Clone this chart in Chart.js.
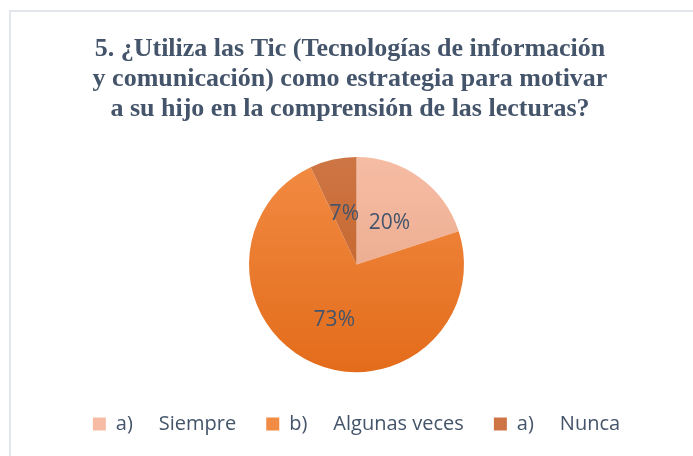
<!DOCTYPE html>
<html><head><meta charset="utf-8">
<script src="https://cdn.jsdelivr.net/npm/chart.js@4"></script>
<style>
html,body{margin:0;padding:0;background:#fff;width:693px;height:456px;overflow:hidden}
#wrap{position:relative;width:693px;height:456px}
#frame{position:absolute;left:9px;top:10px;width:720px;height:480px;border-left:2px solid #E3E6EC;border-top:2px solid #E3E6EC}
canvas{position:absolute;left:0;top:0}
</style></head><body>
<div id="wrap"><div id="frame"></div><canvas id="c" width="693" height="456"></canvas></div>
<script>
const titleLines = [
  "5. ¿Utiliza las Tic (Tecnologías de información",
  "y comunicación) como estrategia para motivar",
  "a su hijo en la comprensión de las lecturas?"
];
const categories = ["a)     Siempre", "b)     Algunas veces", "a)     Nunca"];
const percentages = [20, 73, 7];
const topColors = ["#F6BDA4", "#F28B43", "#CE7545"];
const bottomColors = ["#E4A083", "#E36C1B", "#C05E1E"];

const PIE_R = 107.5;
const TEXT_COLOR = "#44546A";

const titlePlugin = {
  id: 'customTitle',
  afterDraw(chart) {
    const ctx = chart.ctx;
    ctx.save();
    ctx.fillStyle = TEXT_COLOR;
    ctx.font = "bold 26px 'Liberation Serif', 'Times New Roman', serif";
    ctx.textAlign = 'center';
    ctx.textBaseline = 'alphabetic';
    const baselines = [55.7, 86, 115.7];
    titleLines.forEach((t, i) => ctx.fillText(t, 350, baselines[i]));
    ctx.restore();
  }
};

const labelPlugin = {
  id: 'pctLabels',
  afterDatasetsDraw(chart) {
    const ctx = chart.ctx;
    const meta = chart.getDatasetMeta(0);
    ctx.save();
    ctx.fillStyle = TEXT_COLOR;
    ctx.font = "21px 'Open Sans', sans-serif";
    ctx.textAlign = 'center';
    ctx.textBaseline = 'middle';
    meta.data.forEach((arc, i) => {
      const p = arc.getProps(['x', 'y', 'startAngle', 'endAngle', 'outerRadius'], true);
      const mid = (p.startAngle + p.endAngle) / 2;
      const d = p.outerRadius * 0.52;
      ctx.fillText(percentages[i] + '%', p.x + Math.cos(mid) * d, p.y + Math.sin(mid) * d + 4);
    });
    ctx.restore();
  }
};

function sliceFill(context) {
  const chart = context.chart;
  const area = chart.chartArea;
  const i = context.dataIndex;
  if (!area) return topColors[i];
  const cy = (area.top + area.bottom) / 2;
  const g = chart.ctx.createLinearGradient(0, cy - PIE_R, 0, cy + PIE_R);
  g.addColorStop(0, topColors[i]);
  g.addColorStop(1, bottomColors[i]);
  return g;
}

new Chart(document.getElementById('c'), {
  type: 'pie',
  data: {
    labels: categories,
    datasets: [{
      data: percentages,
      backgroundColor: sliceFill,
      borderWidth: 0,
      radius: PIE_R
    }]
  },
  options: {
    responsive: false,
    animation: false,
    layout: { padding: { left: 20, right: 0, top: 145, bottom: 12 } },
    plugins: {
      title: { display: false },
      tooltip: { enabled: false },
      legend: {
        position: 'bottom',
        labels: {
          boxWidth: 13,
          boxHeight: 13,
          padding: 30,
          color: TEXT_COLOR,
          font: { family: "'Open Sans', sans-serif", size: 20 },
          generateLabels(chart) {
            return categories.map((c, i) => ({
              text: c,
              fillStyle: topColors[i],
              strokeStyle: topColors[i],
              lineWidth: 0,
              fontColor: TEXT_COLOR,
              hidden: false,
              index: i
            }));
          }
        }
      }
    }
  },
  plugins: [titlePlugin, labelPlugin]
});
</script>
</body></html>
